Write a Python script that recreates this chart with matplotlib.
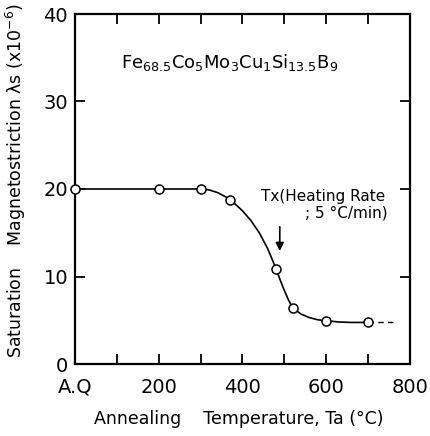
import numpy as np
import matplotlib
matplotlib.use("Agg")
import matplotlib.pyplot as plt

# measured points (A.Q plotted at 0)
temp = [0, 200, 300, 370, 480, 520, 600, 700]
lam = [20.0, 20.0, 20.0, 18.7, 10.9, 6.4, 4.95, 4.8]

# guide curve
curve_t = [0, 300, 320, 340, 360, 380, 400, 420, 440, 460, 480, 490, 500, 510, 520,
           540, 560, 580, 600, 630, 660, 700]
curve_l = [20.0, 20.0, 19.9, 19.6, 19.1, 18.4, 17.5, 16.4, 15.0, 13.2, 10.9, 9.6,
           8.4, 7.3, 6.4, 5.7, 5.3, 5.05, 4.95, 4.8, 4.75, 4.75]
dash_t = [700, 760]
dash_l = [4.75, 4.75]

xticks = [0, 100, 200, 300, 400, 500, 600, 700, 800]
xticklabels = ["A.Q", "", "200", "", "400", "", "600", "", "800"]
yticks = [0, 10, 20, 30, 40]

plt.rcParams['font.family'] = ['DejaVu Sans']
plt.rcParams['mathtext.fontset'] = 'dejavusans'

fig = plt.figure(figsize=(4.31, 4.36), dpi=100)
ax = fig.add_axes([75/431, 1 - 364/436, 335/431, 350/436])

ax.plot(curve_t, curve_l, color='k', lw=1.2, zorder=2)
ax.plot(dash_t, dash_l, color='k', lw=1.0, ls=(0, (4, 3)), zorder=2)
ax.plot(temp, lam, 'o', mfc='white', mec='k', mew=1.1, ms=6.5, zorder=3, clip_on=False)

ax.set_xlim(0, 800)
ax.set_ylim(0, 40)
ax.set_xticks(xticks)
ax.set_xticklabels(xticklabels)
ax.set_yticks(yticks)
ax.tick_params(direction='in', top=True, right=True, length=7, width=1.3,
               labelsize=14)
ax.tick_params(axis='x', pad=10)
ax.tick_params(axis='y', pad=5)
for s in ax.spines.values():
    s.set_linewidth(1.6)

ax.text(370, 34.5, r"Fe$_{68.5}$Co$_5$Mo$_3$Cu$_1$Si$_{13.5}$B$_9$",
        ha='center', va='center', fontsize=13)
ax.text(445, 19.1, "Tx(Heating Rate", ha='left', va='center', fontsize=11)
ax.text(550, 17.3, "; 5 °C/min)", ha='left', va='center', fontsize=11)
ax.annotate("", xy=(489, 12.6), xytext=(489, 16.0),
            arrowprops=dict(arrowstyle='-|>', color='k', lw=1.2, mutation_scale=12))

ax.set_xlabel("Annealing    Temperature, Ta (°C)", fontsize=12.5)
ax.set_ylabel("Saturation    Magnetostriction λs (x10$^{-6}$)", fontsize=12.5)
ax.xaxis.set_label_coords(0.49, -0.13)
ax.yaxis.set_label_coords(-0.14, 0.523)

fig.savefig("out.png", dpi=100)
